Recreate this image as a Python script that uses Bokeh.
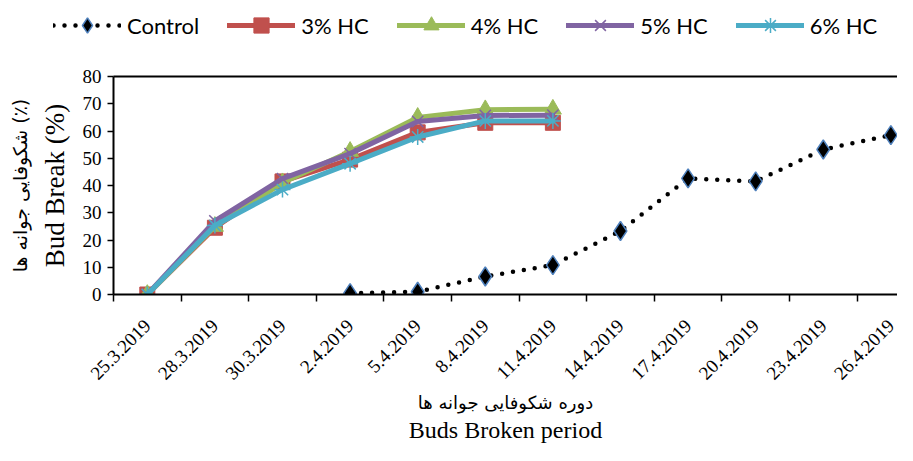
import math
from bokeh.plotting import figure
from bokeh.layouts import column
from bokeh.models import LinearAxis, FixedTicker, Range1d, Legend, LegendItem
from bokeh.embed import file_html
from bokeh.resources import INLINE

# ---------------- data ----------------
dates = ["25.3.2019", "28.3.2019", "30.3.2019", "2.4.2019", "5.4.2019", "8.4.2019",
         "11.4.2019", "14.4.2019", "17.4.2019", "20.4.2019", "23.4.2019", "26.4.2019"]
control_dates = ["2.4.2019", "5.4.2019", "8.4.2019", "11.4.2019", "14.4.2019",
                 "17.4.2019", "20.4.2019", "23.4.2019", "26.4.2019"]
control = [0.5, 1.0, 6.6, 10.8, 23.3, 42.6, 41.5, 53.2, 58.5]
hc_dates = ["25.3.2019", "28.3.2019", "30.3.2019", "2.4.2019", "5.4.2019", "8.4.2019", "11.4.2019"]
hc3 = [0, 24.5, 41.5, 49.5, 59.5, 63.0, 63.0]
hc4 = [0, 25.0, 41.0, 52.5, 65.0, 67.8, 68.0]
hc5 = [0, 27.0, 42.5, 51.7, 63.5, 65.7, 65.8]
hc6 = [0, 25.3, 38.5, 48.0, 57.8, 63.7, 63.7]
y_ticks = [0, 10, 20, 30, 40, 50, 60, 70, 80]
series_names = ["Control", "3% HC", "4% HC", "5% HC", "6% HC"]

pos = {d: i for i, d in enumerate(dates)}
xc = [pos[d] for d in control_dates]
xh = [pos[d] for d in hc_dates]

SERIF = "Liberation Serif"
W = 897
LEG_H = 50

styles = {
    "Control": dict(color="black", marker="diamond", size=19),
    "3% HC": dict(color="#C0504D", marker="square", size=15),
    "4% HC": dict(color="#9BBB59", marker="triangle", size=17),
    "5% HC": dict(color="#8064A2", marker="x", size=16),
    "6% HC": dict(color="#4BACC6", marker="asterisk", size=16),
}


def draw(fig, name, xs, ys):
    st = styles[name]
    if name == "Control":
        l = fig.line(xs, ys, line_color="black", line_width=4.5, line_dash="0 11", line_cap="round")
        s = fig.scatter(xs, ys, marker="diamond", size=st["size"], fill_color="black",
                        line_color="#4F81BD", line_width=1.5)
    else:
        l = fig.line(xs, ys, line_color=st["color"], line_width=5, line_join="round", line_cap="round")
        if st["marker"] in ("x", "asterisk"):
            s = fig.scatter(xs, ys, marker=st["marker"], size=st["size"],
                            line_color=st["color"], line_width=1.5)
        else:
            s = fig.scatter(xs, ys, marker=st["marker"], size=st["size"],
                            fill_color=st["color"], line_color=st["color"], line_width=1)
    return l, s


# ---------------- main plot ----------------
p = figure(width=W, height=445 - LEG_H, output_backend="svg", toolbar_location=None,
           x_range=Range1d(-0.5, 11.098), y_range=Range1d(0, 80),
           min_border_left=113, min_border_right=0, min_border_top=76 - LEG_H,
           min_border_bottom=140)
p.outline_line_color = None
p.xgrid.visible = False
p.ygrid.visible = False
p.frame_align = False

ya = p.yaxis[0]
ya.ticker = FixedTicker(ticks=y_ticks)
ya.axis_line_width = 2
ya.axis_line_color = "black"
ya.major_tick_out = 6
ya.major_tick_in = 0
ya.major_tick_line_width = 1.5
ya.minor_tick_line_color = None
ya.major_label_text_font = SERIF
ya.major_label_text_font_size = "19px"
ya.major_label_text_color = "black"
ya.major_label_standoff = 6
ya.axis_label = "Bud Break (%)"
ya.axis_label_text_font = SERIF
ya.axis_label_text_font_size = "27px"
ya.axis_label_text_font_style = "normal"
ya.axis_label_text_color = "black"
ya.axis_label_standoff = 10

ya2 = LinearAxis(ticker=FixedTicker(ticks=[]), axis_line_color=None,
                 axis_label="شکوفایی جوانه ها (٪)",
                 axis_label_text_font="DejaVu Sans", axis_label_text_font_size="19px",
                 axis_label_text_font_style="normal", axis_label_text_color="black",
                 axis_label_standoff=6)
p.add_layout(ya2, "left")

xa = p.xaxis[0]
xa.ticker = FixedTicker(ticks=list(range(len(dates))),
                        minor_ticks=[i - 0.5 for i in range(len(dates) + 1)])
xa.major_label_overrides = {i: d for i, d in enumerate(dates)}
xa.axis_line_width = 2
xa.axis_line_color = "black"
xa.major_tick_out = 0
xa.major_tick_in = 0
xa.minor_tick_out = 7
xa.minor_tick_in = 0
xa.minor_tick_line_width = 1.5
xa.minor_tick_line_color = "black"
xa.major_label_orientation = math.pi / 4
xa.major_label_text_font = SERIF
xa.major_label_text_font_size = "19px"
xa.major_label_text_color = "black"
xa.major_label_standoff = 21
xa.axis_label = "دوره شکوفایی جوانه ها"
xa.axis_label_text_font = "DejaVu Sans"
xa.axis_label_text_font_size = "18px"
xa.axis_label_text_font_style = "normal"
xa.axis_label_text_color = "black"
xa.axis_label_standoff = 4

xa2 = LinearAxis(ticker=FixedTicker(ticks=[]), axis_line_color=None,
                 axis_label="Buds Broken period",
                 axis_label_text_font=SERIF, axis_label_text_font_size="24px",
                 axis_label_text_font_style="normal", axis_label_text_color="black",
                 axis_label_standoff=0)
p.add_layout(xa2, "below")

top = LinearAxis(ticker=FixedTicker(ticks=[]), axis_line_width=2, axis_line_color="black",
                 major_label_text_font_size="0px")
p.add_layout(top, "above")

draw(p, "Control", xc, control)
for name, ys in zip(series_names[1:], [hc3, hc4, hc5, hc6]):
    draw(p, name, xh, ys)

# ---------------- legend strip (same series, drawn outside its visible range) ----------------
lg = figure(width=W, height=LEG_H, output_backend="svg", toolbar_location=None,
            x_range=Range1d(-0.5, 11.098), y_range=Range1d(1000, 1001),
            x_axis_type=None, y_axis_type=None,
            min_border_left=0, min_border_right=0, min_border_top=0, min_border_bottom=0)
lg.outline_line_color = None
lg.xgrid.visible = False
lg.ygrid.visible = False
lg.frame_align = False
items = []
all_series = [(xc, control), (xh, hc3), (xh, hc4), (xh, hc5), (xh, hc6)]
for name, (xs, ys) in zip(series_names, all_series):
    l, s = draw(lg, name, xs, ys)
    items.append(LegendItem(label=name, renderers=[l, s]))
legend = Legend(items=items, orientation="horizontal", location=(53, 6),
                label_text_font="Lato", label_text_font_size="22px", label_text_color="black",
                glyph_width=68, glyph_height=38, label_standoff=6, spacing=28,
                padding=0, margin=0, border_line_color=None, background_fill_alpha=0)
lg.add_layout(legend, "center")

open("out.html", "w").write(file_html(column(lg, p, spacing=0), INLINE))
